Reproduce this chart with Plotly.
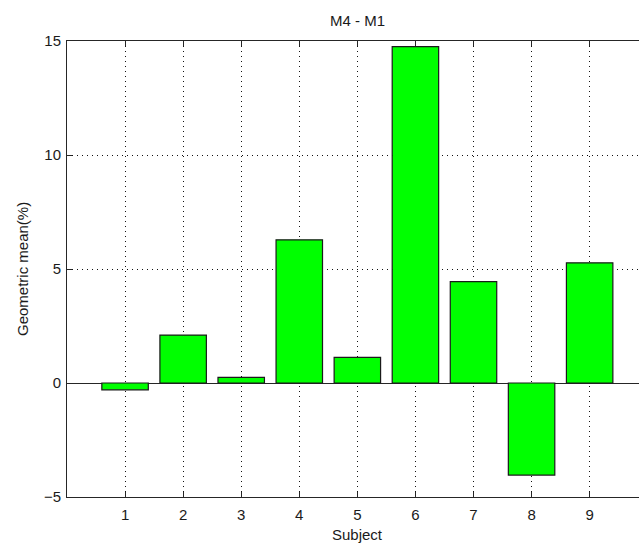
import plotly.graph_objects as go

subjects = [1, 2, 3, 4, 5, 6, 7, 8, 9]
values = [-0.3, 2.1, 0.25, 6.28, 1.12, 14.75, 4.45, -4.04, 5.27]
x_ticks = [1, 2, 3, 4, 5, 6, 7, 8, 9]
y_ticks = [-5, 0, 5, 10, 15]

FONT = "Liberation Sans, Arial, Helvetica, sans-serif"
AX = "#262626"
GRID_DASH = "1px,4px"

fig = go.Figure()
fig.add_trace(go.Bar(
    x=subjects, y=values, width=0.8,
    marker=dict(color="#00ff00", line=dict(color="#1a1a1a", width=1.2)),
    showlegend=False,
))

fig.update_layout(
    width=639, height=547,
    margin=dict(l=67, r=0, t=41, b=50),
    paper_bgcolor="white", plot_bgcolor="white",
    font=dict(family=FONT, size=15, color="#1a1a1a"),
    title=dict(text="M4 - M1", x=357.5 / 639, xref="container", xanchor="center",
               y=1 - 21 / 547, yref="container", yanchor="middle",
               font=dict(family=FONT, size=15, color="#1a1a1a")),
    bargap=0.2,
)

fig.update_xaxes(
    range=[0, 9.85], tickmode="array", tickvals=x_ticks,
    ticks="inside", ticklen=5, tickcolor=AX, tickwidth=1,
    showline=True, linecolor=AX, linewidth=1, mirror="ticks",
    showgrid=True, gridcolor="#111", griddash=GRID_DASH, gridwidth=1,
    zeroline=False, fixedrange=True, ticklabelstandoff=4,
)
fig.update_yaxes(
    range=[-5, 15], tickmode="array", tickvals=y_ticks,
    ticks="inside", ticklen=5, tickcolor=AX, tickwidth=1,
    showline=True, linecolor=AX, linewidth=1, mirror=False,
    showgrid=True, gridcolor="#111", griddash=GRID_DASH, gridwidth=1,
    zeroline=True, zerolinecolor=AX, zerolinewidth=1, ticklabelstandoff=2,
    fixedrange=True,
)

fig.add_annotation(text="Subject", xref="paper", yref="paper",
                   x=(357.5 - 67) / 572, y=-(534 - 497) / 456,
                   xanchor="center", yanchor="middle", showarrow=False,
                   font=dict(family=FONT, size=15, color="#1a1a1a"))
fig.add_annotation(text="Geometric mean(%)", xref="paper", yref="paper",
                   x=-(67 - 22) / 572, y=0.5, textangle=-90,
                   xanchor="center", yanchor="middle", showarrow=False,
                   font=dict(family=FONT, size=15, color="#1a1a1a"))

fig.write_html("out.html", config={"displayModeBar": False},
               post_script="document.body.style.margin='0';document.body.style.overflow='hidden';")
